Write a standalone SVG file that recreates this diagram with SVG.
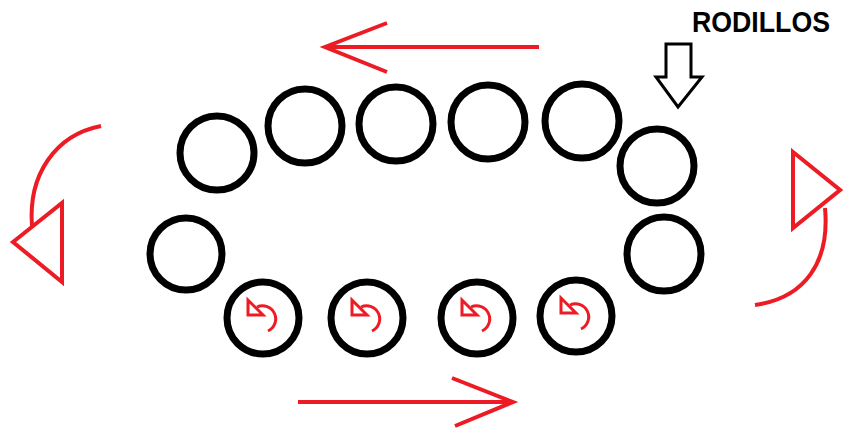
<svg xmlns="http://www.w3.org/2000/svg" width="843" height="430" viewBox="0 0 843 430">
  <defs>
    <style>
      .roller { fill: none; stroke: #000; stroke-width: 7; }
      .red { fill: none; stroke: #ed1c24; stroke-width: 4; stroke-linejoin: miter; }
      .spin { fill: none; stroke: #ed1c24; stroke-width: 3; }
      .hollow { fill: #fff; stroke: #000; stroke-width: 3; stroke-linejoin: miter; }
      .label { font-family: "Liberation Sans", Arial, sans-serif; font-weight: bold; font-size: 29px; fill: #000; }
    </style>
    <!-- small counter-clockwise spin symbol, centred on a roller -->
    <g id="spin-symbol">
      <polygon class="spin" points="-15,-18 -15,-3 0,-3"/>
      <path class="spin" d="M -6,-11 A 13 13 0 1 1 5,13"/>
    </g>
  </defs>

  <rect width="843" height="430" fill="#fff"/>

  <!-- rollers -->
  <g id="roller-1"><circle class="roller" cx="217" cy="153" r="37"/></g>
  <g id="roller-2"><circle class="roller" cx="305" cy="126" r="37"/></g>
  <g id="roller-3"><circle class="roller" cx="396" cy="124" r="37"/></g>
  <g id="roller-4"><circle class="roller" cx="488" cy="122" r="37"/></g>
  <g id="roller-5"><circle class="roller" cx="582" cy="121" r="37"/></g>
  <g id="roller-6"><circle class="roller" cx="657" cy="166" r="37"/></g>
  <g id="roller-7"><circle class="roller" cx="186" cy="254" r="36"/></g>
  <g id="roller-8"><circle class="roller" cx="664" cy="254" r="37"/></g>
  <g id="roller-9"><circle class="roller" cx="263" cy="318" r="36"/><use href="#spin-symbol" x="263" y="318"/></g>
  <g id="roller-10"><circle class="roller" cx="367" cy="318" r="36"/><use href="#spin-symbol" x="367" y="318"/></g>
  <g id="roller-11"><circle class="roller" cx="477" cy="318" r="36"/><use href="#spin-symbol" x="477" y="318"/></g>
  <g id="roller-12"><circle class="roller" cx="576" cy="316" r="36"/><use href="#spin-symbol" x="576" y="316"/></g>

  <!-- label with hollow pointer -->
  <g id="label-rodillos">
    <text class="label" x="692" y="32" textLength="138" lengthAdjust="spacingAndGlyphs">RODILLOS</text>
    <polygon class="hollow" points="666,44 691,44 691,77 702,77 678,107 656,77 666,77"/>
  </g>

  <!-- direction arrows -->
  <g id="connectors">
    <!-- top: right to left -->
    <path class="red" d="M 539,47 L 325,47 M 387,23 L 325,47 L 387,72"/>
    <!-- bottom: left to right -->
    <path class="red" d="M 298,402 L 513,402 M 452,378 L 513,402 L 455,426"/>
    <!-- left turn -->
    <path class="red" d="M 101,126 C 55,135 28,175 32,226"/>
    <polygon class="red" points="13,242 62,203 62,282"/>
    <!-- right turn -->
    <path class="red" d="M 755,305 C 805,298 830,262 825,208"/>
    <polygon class="red" points="793,152 840,190 793,228"/>
  </g>
</svg>
